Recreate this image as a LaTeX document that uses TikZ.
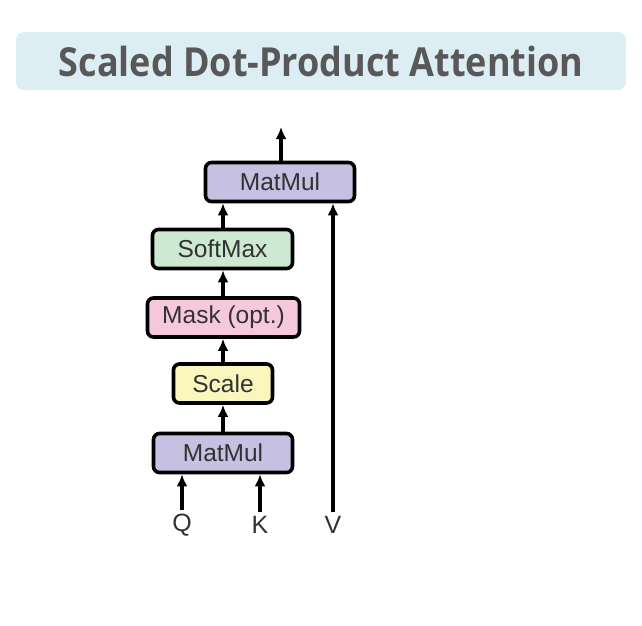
\documentclass[tikz,border=0pt]{standalone}
\usepackage{fontspec}
\setmainfont{Liberation Sans}
\newfontfamily\headfont{Open Sans}
\usepackage{tikz}
\usetikzlibrary{arrows.meta}
\definecolor{headbg}{RGB}{220,238,244}
\definecolor{headfg}{RGB}{88,88,88}
\definecolor{matmulc}{RGB}{198,192,226}
\definecolor{softmaxc}{RGB}{206,233,210}
\definecolor{maskc}{RGB}{246,200,220}
\definecolor{scalec}{RGB}{250,246,190}
\definecolor{inkc}{RGB}{50,50,50}

\begin{document}
\begin{tikzpicture}[x=1pt, y=-1pt]
\tikzstyle{block}=[draw, line width=3.6pt, rounded corners=6pt, minimum height=39pt, inner sep=0pt, text=inkc, font=\fontsize{24.5}{28}\selectfont]
\tikzstyle{letter}=[inner sep=4pt, text=inkc, font=\fontsize{25}{28}\selectfont]
\tikzstyle{flow}=[line width=3.3pt, -{Latex[length=12pt, width=11pt]}]
\useasboundingbox (0,0) rectangle (642,625);

\node[fill=headbg, rounded corners=8pt, minimum width=610pt, minimum height=58pt, inner sep=0pt,
      text=headfg, font=\headfont\bfseries\fontsize{40}{44}\selectfont] (title) at (321,61) {\scalebox{0.9}[1]{Scaled Dot-Product Attention}};

\node[block, fill=matmulc, minimum width=149pt] (mm2) at (280,182) {MatMul};
\node[block, fill=softmaxc, minimum width=140pt] (soft) at (222.5,249) {SoftMax};
\node[block, fill=maskc, minimum width=152pt] (mask) at (223.5,317.5) {Mask (opt.)};
\node[block, fill=scalec, minimum width=99pt] (scale) at (223,383.5) {Scale};
\node[block, fill=matmulc, minimum width=139pt] (mm1) at (223,453) {MatMul};

\node[letter] (Q) at (182,525) {Q};
\node[letter] (K) at (260,525) {K};
\node[letter] (V) at (333,525) {V};
\coordinate (out) at (281,127);

\draw[flow] (Q.north) -- (Q.north |- mm1.south);
\draw[flow] (K.north) -- (K.north |- mm1.south);
\draw[flow] (V.north) -- (V.north |- mm2.south);
\draw[flow] (mm1.north) -- (scale.south);
\draw[flow] (scale.north) -- (mask.south -| scale.north);
\draw[flow] (mask.north -| scale.north) -- (soft.south -| scale.north);
\draw[flow] (soft.north -| scale.north) -- (mm2.south -| scale.north);
\draw[flow] (out |- mm2.north) -- (out);

\end{tikzpicture}
\end{document}
